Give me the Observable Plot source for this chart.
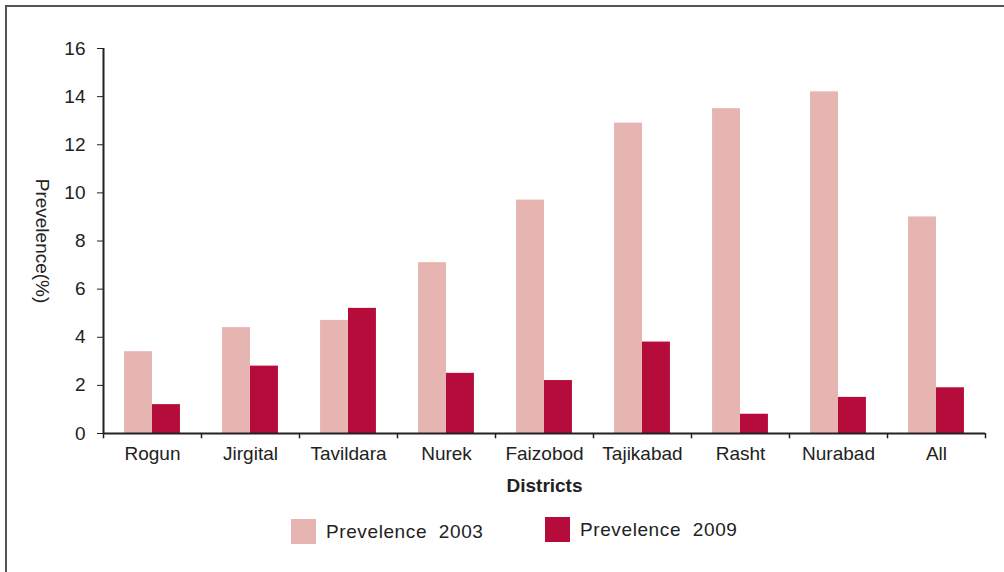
<!DOCTYPE html>
<html>
<head>
<meta charset="utf-8">
<script src="https://cdn.jsdelivr.net/npm/d3@7"></script>
<script src="https://cdn.jsdelivr.net/npm/@observablehq/plot@0.6"></script>
<style>
  html, body { margin: 0; padding: 0; background: #fff; }
  #wrap { position: relative; width: 1004px; height: 572px; overflow: hidden; font-family: "Liberation Sans", Arial, sans-serif; color: #222; }
  #border { position: absolute; left: 5px; top: 5px; width: 1010px; height: 600px; border-top: 2px solid #555; border-left: 2px solid #555; box-sizing: border-box; }
  #chart { position: absolute; left: 0; top: 0; }
  .leg { position: absolute; display: flex; align-items: center; font-size: 19px; letter-spacing: 0.6px; white-space: pre; }
  .sw { width: 25px; height: 25px; margin-right: 10px; }
</style>
</head>
<body>
<div id="wrap">
  <div id="border"></div>
  <div id="chart"></div>
  <div class="leg" id="leg1" style="left:291px; top:519px;"></div>
  <div class="leg" id="leg2" style="left:545px; top:517px;"></div>
</div>
<script>
const districts = ["Rogun", "Jirgital", "Tavildara", "Nurek", "Faizobod", "Tajikabad", "Rasht", "Nurabad", "All"];
const prevelence2003 = [3.4, 4.4, 4.7, 7.1, 9.7, 12.9, 13.5, 14.2, 9.0];
const prevelence2009 = [1.2, 2.8, 5.2, 2.5, 2.2, 3.8, 0.8, 1.5, 1.9];
const yTicks = [0, 2, 4, 6, 8, 10, 12, 14, 16];
const seriesNames = ["Prevelence  2003", "Prevelence  2009"];
const seriesColors = ["#e6b5b1", "#b50c3b"];

const rows2003 = districts.map((d, i) => ({district: d, value: prevelence2003[i]}));
const rows2009 = districts.map((d, i) => ({district: d, value: prevelence2009[i]}));

const W = 1004, ML = 103, MR = 19;
const band = (W - ML - MR) / districts.length;

const chart = Plot.plot({
  width: W,
  height: 503,
  marginLeft: ML,
  marginRight: MR,
  marginTop: 48,
  marginBottom: 70,
  style: {fontFamily: '"Liberation Sans", Arial, sans-serif', fontSize: "19px", color: "#222", background: "transparent", overflow: "visible"},
  x: {domain: districts, padding: 0, tickSize: 0, tickPadding: 13, label: null},
  y: {domain: [0, 16], ticks: yTicks, tickSize: 6, tickPadding: 12, label: null},
  marks: [
    Plot.barY(rows2003, {x: "district", y: "value", fill: seriesColors[0], insetLeft: band * 0.215, insetRight: band * 0.5}),
    Plot.barY(rows2009, {x: "district", y: "value", fill: seriesColors[1], insetLeft: band * 0.5, insetRight: band * 0.215}),
    Plot.ruleY([0], {stroke: "#222", strokeWidth: 2}),
    Plot.ruleX([districts[0]], {dx: -band / 2, y1: 0, y2: 16, stroke: "#222", strokeWidth: 2}),
    Plot.ruleX(districts, {x: d => d, dx: -band / 2, y1: 0, y2: -0.22, stroke: "#222", strokeWidth: 1.5}),
    Plot.ruleX([districts[districts.length - 1]], {x: d => d, dx: band / 2, y1: 0, y2: -0.22, stroke: "#222", strokeWidth: 1.5}),
    Plot.text(["Districts"], {frameAnchor: "bottom", textAnchor: "middle", dy: 58, fontWeight: "bold", fontSize: 19}),
    Plot.text(["Prevelence(%)"], {frameAnchor: "left", textAnchor: "middle", dx: -61, dy: 0, rotate: 90, fontSize: 19})
  ]
});
document.getElementById("chart").appendChild(chart);

[["leg1", 0], ["leg2", 1]].forEach(([id, k]) => {
  const el = document.getElementById(id);
  const sw = document.createElement("div");
  sw.className = "sw";
  sw.style.background = seriesColors[k];
  const t = document.createElement("span");
  t.textContent = seriesNames[k];
  el.appendChild(sw);
  el.appendChild(t);
});
</script>
</body>
</html>
